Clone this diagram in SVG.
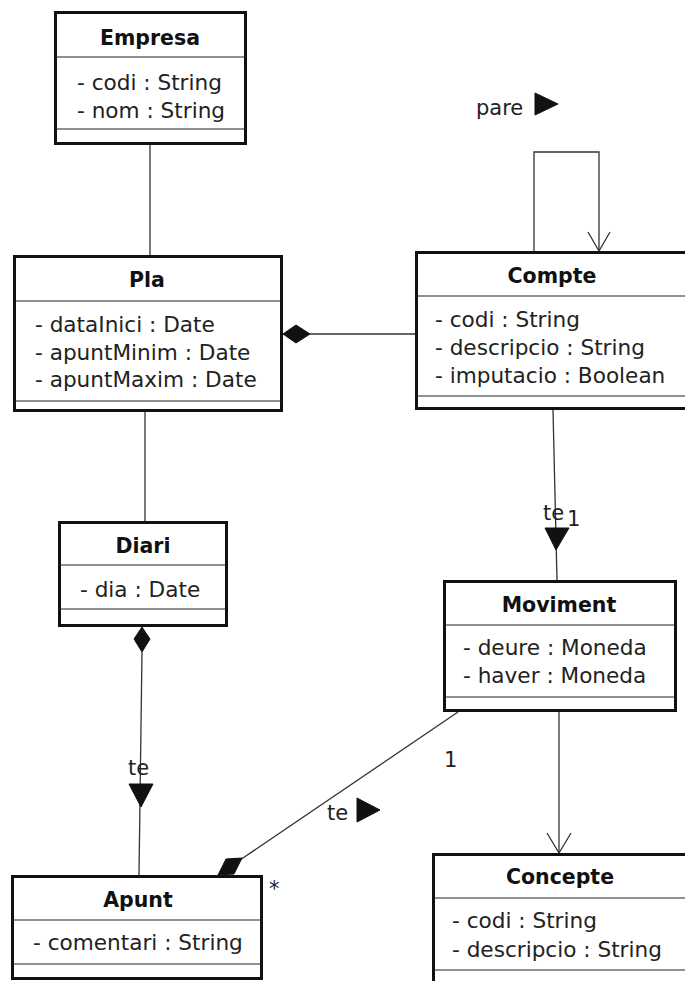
<svg xmlns="http://www.w3.org/2000/svg" width="685" height="981" viewBox="0 0 685 981">
<style>
.box{fill:#fff;stroke:#111;stroke-width:3}
.div{stroke:#222;stroke-width:1.2;fill:none}
.ln{stroke:#333;stroke-width:1.3;fill:none}
.name{font-family:"DejaVu Sans",sans-serif;font-weight:bold;font-size:20.5px;fill:#111;text-anchor:middle}
.attr{font-family:"DejaVu Sans",sans-serif;font-size:21.6px;fill:#222}
.lbl{font-family:"DejaVu Sans",sans-serif;font-size:21px;fill:#222}
.fill{fill:#111;stroke:#111;stroke-width:1}
</style>
<rect width="685" height="981" fill="#fff"/>
<g id="connectors">
  <line class="ln" x1="150" y1="145" x2="150" y2="255"/>
  <line class="ln" x1="145" y1="412" x2="145" y2="521"/>
  <line class="ln" x1="310" y1="334" x2="415" y2="334"/>
  <polygon class="fill" points="283,334 296,325 310,334 296,343"/>
  <polyline class="ln" points="534,251 534,152 599,152 599,251"/>
  <polyline class="ln" points="588,232 599,251 610,232"/>
  <text class="lbl" x="476" y="115">pare</text>
  <polygon class="fill" points="535,93 558,104 535,115"/>
  <line class="ln" x1="553" y1="410" x2="557" y2="580"/>
  <polygon class="fill" points="545,528 569,528 556,550"/>
  <text class="lbl" x="543" y="520">te</text>
  <text class="lbl" x="567" y="526">1</text>
  <polygon class="fill" points="142,627 150,639 142,652 134,639"/>
  <line class="ln" x1="142" y1="651" x2="139" y2="875"/>
  <polygon class="fill" points="129,784 153,784 141,807"/>
  <text class="lbl" x="128" y="775">te</text>
  <line class="ln" x1="458" y1="712" x2="240" y2="860"/>
  <polygon class="fill" points="242,858 234,874 218,875 226,859"/>
  <text class="lbl" x="444" y="767">1</text>
  <text class="lbl" x="327" y="820">te</text>
  <polygon class="fill" points="357,798 380,810 357,822"/>
  <text class="lbl" x="269" y="896">*</text>
  <line class="ln" x1="559" y1="712" x2="559" y2="853"/>
  <polyline class="ln" points="547,833 559,853 571,833"/>
</g>
<g id="Empresa">
  <rect class="box" x="55.5" y="12.5" width="190" height="131"/>
  <line class="div" x1="55" y1="57" x2="246" y2="57"/>
  <line class="div" x1="55" y1="129" x2="246" y2="129"/>
  <text class="name" x="150" y="45">Empresa</text>
  <text class="attr" x="77" y="90">- codi : String</text>
  <text class="attr" x="77" y="118">- nom : String</text>
</g>
<g id="Pla">
  <rect class="box" x="14.5" y="256.5" width="267" height="154"/>
  <line class="div" x1="14" y1="301" x2="282" y2="301"/>
  <line class="div" x1="14" y1="401" x2="282" y2="401"/>
  <text class="name" x="147" y="287">Pla</text>
  <text class="attr" x="35" y="332">- dataInici : Date</text>
  <text class="attr" x="35" y="360">- apuntMinim : Date</text>
  <text class="attr" x="35" y="387">- apuntMaxim : Date</text>
</g>
<g id="Compte">
  <rect class="box" x="416.5" y="252.5" width="290" height="156"/>
  <line class="div" x1="416" y1="296" x2="700" y2="296"/>
  <line class="div" x1="416" y1="396" x2="700" y2="396"/>
  <text class="name" x="552" y="283">Compte</text>
  <text class="attr" x="435" y="327">- codi : String</text>
  <text class="attr" x="435" y="355">- descripcio : String</text>
  <text class="attr" x="435" y="383">- imputacio : Boolean</text>
</g>
<g id="Diari">
  <rect class="box" x="59.5" y="522.5" width="167" height="103"/>
  <line class="div" x1="59" y1="565" x2="227" y2="565"/>
  <line class="div" x1="59" y1="609" x2="227" y2="609"/>
  <text class="name" x="143" y="553">Diari</text>
  <text class="attr" x="80" y="597">- dia : Date</text>
</g>
<g id="Moviment">
  <rect class="box" x="444.5" y="581.5" width="231" height="129"/>
  <line class="div" x1="444" y1="625" x2="676" y2="625"/>
  <line class="div" x1="444" y1="697" x2="676" y2="697"/>
  <text class="name" x="559" y="612">Moviment</text>
  <text class="attr" x="463" y="655">- deure : Moneda</text>
  <text class="attr" x="463" y="683">- haver : Moneda</text>
</g>
<g id="Apunt">
  <rect class="box" x="12.5" y="876.5" width="249" height="102"/>
  <line class="div" x1="12" y1="920" x2="262" y2="920"/>
  <line class="div" x1="12" y1="964" x2="262" y2="964"/>
  <text class="name" x="138" y="907">Apunt</text>
  <text class="attr" x="33" y="950">- comentari : String</text>
</g>
<g id="Concepte">
  <rect class="box" x="433.5" y="854.5" width="300" height="200"/>
  <line class="div" x1="433" y1="898" x2="700" y2="898"/>
  <line class="div" x1="433" y1="970" x2="700" y2="970"/>
  <text class="name" x="560" y="884">Concepte</text>
  <text class="attr" x="452" y="928">- codi : String</text>
  <text class="attr" x="452" y="957">- descripcio : String</text>
</g>
</svg>
